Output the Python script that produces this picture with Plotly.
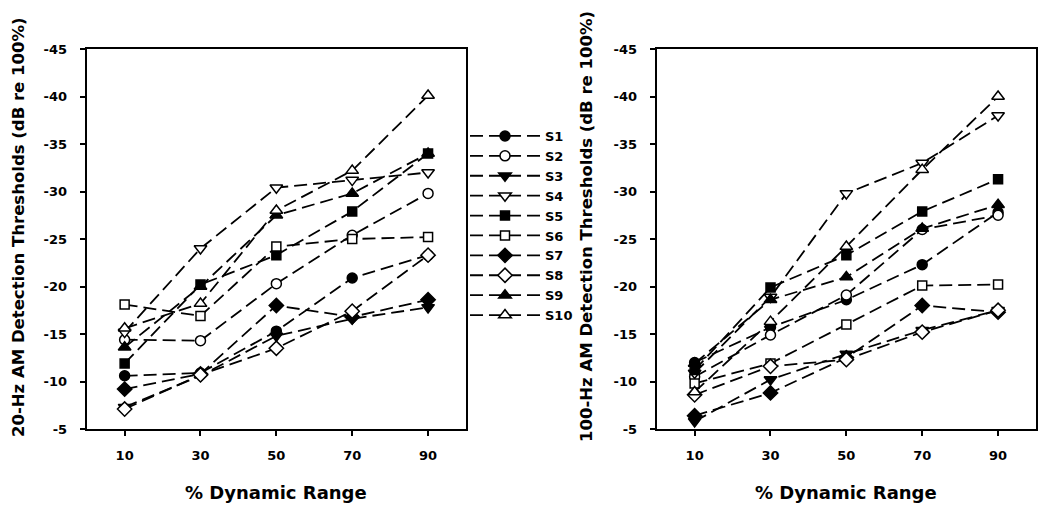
import plotly.graph_objects as go

# ---------------- data ----------------
dynamic_range = [10, 30, 50, 70, 90]
subjects = ["S1", "S2", "S3", "S4", "S5", "S6", "S7", "S8", "S9", "S10"]

hz20 = {
    "S1": [-10.6, -10.9, -15.3, -20.9, -23.3],
    "S2": [-14.4, -14.3, -20.3, -25.4, -29.8],
    "S3": [-7.3, -10.6, -14.8, -16.6, -17.8],
    "S4": [-15.2, -24.0, -30.4, -31.2, -32.0],
    "S5": [-11.9, -20.2, -23.3, -27.9, -34.0],
    "S6": [-18.1, -16.9, -24.2, -25.0, -25.2],
    "S7": [-9.2, -10.8, -18.0, -16.8, -18.6],
    "S8": [-7.1, -10.7, -13.5, -17.4, -23.3],
    "S9": [-13.6, -20.0, -27.5, -29.8, -34.0],
    "S10": [-15.6, -18.2, -28.0, -32.2, -40.1],
}

hz100 = {
    "S1": [-12.0, -15.7, -18.6, -22.3, -27.8],
    "S2": [-10.5, -14.9, -19.1, -26.0, -27.5],
    "S3": [-5.8, -10.2, -12.9, -15.4, -17.5],
    "S4": [-10.9, -18.9, -29.8, -33.0, -38.0],
    "S5": [-11.2, -19.9, -23.3, -27.9, -31.3],
    "S6": [-9.8, -11.9, -16.0, -20.1, -20.2],
    "S7": [-6.4, -8.8, -12.5, -18.0, -17.3],
    "S8": [-8.6, -11.6, -12.3, -15.2, -17.5],
    "S9": [-11.9, -18.6, -21.0, -26.1, -28.6],
    "S10": [-8.9, -16.3, -24.2, -32.3, -40.0],
}

x_ticks = [10, 30, 50, 70, 90]
x_ticktext = ["10", "30", "50", "70", "90"]
y_ticks = [-45, -40, -35, -30, -25, -20, -15, -10, -5]
y_ticktext = ["-45", "-40", "-35", "-30", "-25", "-20", "-15", "-10", "-5"]

# ---------------- styles ----------------
symbols = {
    "S1": ("circle", "black"), "S2": ("circle", "white"),
    "S3": ("triangle-down", "black"), "S4": ("triangle-down", "white"),
    "S5": ("square", "black"), "S6": ("square", "white"),
    "S7": ("diamond", "black"), "S8": ("diamond", "white"),
    "S9": ("triangle-up", "black"), "S10": ("triangle-up", "white"),
}
sizes = {"circle": 10, "triangle-down": 11, "triangle-up": 11, "square": 9, "diamond": 11}
FONT = "DejaVu Sans"
DASH = "13px,6px"

fig = go.Figure()
for panel, data, xa, ya in [(0, hz20, "x", "y"), (1, hz100, "x2", "y2")]:
    for s in subjects:
        sym, fill = symbols[s]
        fig.add_trace(go.Scatter(
            x=dynamic_range, y=data[s], name=s, xaxis=xa, yaxis=ya,
            mode="lines+markers", legendgroup=s, showlegend=(panel == 0),
            line=dict(color="black", width=1.8, dash=DASH),
            marker=dict(symbol=sym, size=sizes[sym], color=fill,
                        line=dict(color="black", width=1.5)),
        ))

# the page body has an 8px margin: the figure starts at screen (8, 8)
OFF = 8
SW, SH = 1050, 511
W, H = SW - OFF, SH - OFF
def px_x(v):
    return (v - OFF) / W
def px_y(v):
    return (SH - v) / H

axis_common = dict(
    showline=True, linecolor="black", linewidth=2, mirror=True,
    ticks="outside", ticklen=5, tickwidth=1.5, tickcolor="black",
    showgrid=False, zeroline=False, automargin=False,
    tickfont=dict(family=FONT, size=13, color="black", weight="bold"),
)

xcommon = dict(axis_common, range=[0, 100], tickvals=x_ticks, ticktext=x_ticktext,
               ticklabelstandoff=8)
ycommon = dict(axis_common, range=[-5, -45], tickvals=y_ticks, ticktext=y_ticktext,
               ticklabelstandoff=10)

title_font = dict(family=FONT, size=16.5, color="black", weight="bold")
xtitle_font = dict(family=FONT, size=18, color="black", weight="bold")

fig.update_layout(
    width=W, height=H,
    margin=dict(l=0, r=0, t=0, b=0, autoexpand=False),
    paper_bgcolor="white", plot_bgcolor="white",
    xaxis=dict(xcommon, domain=[px_x(86.7), px_x(466)], anchor="y"),
    yaxis=dict(ycommon, domain=[px_y(429), px_y(49)], anchor="x"),
    xaxis2=dict(xcommon, domain=[px_x(656.7), px_x(1036)], anchor="y2"),
    yaxis2=dict(ycommon, domain=[px_y(429), px_y(49)], anchor="x2"),
    showlegend=True,
    legend=dict(
        x=px_x(465), y=px_y(121), xanchor="left", yanchor="top",
        font=dict(family=FONT, size=13, color="black", weight="bold"),
        bgcolor="rgba(0,0,0,0)", itemwidth=70, tracegroupgap=0,
    ),
    annotations=[
        dict(text="20-Hz AM Detection Thresholds (dB re 100%)", x=px_x(18), y=px_y(227),
             xref="paper", yref="paper", textangle=-90, showarrow=False,
             xanchor="center", yanchor="middle", font=title_font),
        dict(text="100-Hz AM Detection Thresholds (dB re 100%)", x=px_x(586), y=px_y(227),
             xref="paper", yref="paper", textangle=-90, showarrow=False,
             xanchor="center", yanchor="middle", font=title_font),
        dict(text="% Dynamic Range", x=px_x(276), y=px_y(492),
             xref="paper", yref="paper", showarrow=False,
             xanchor="center", yanchor="middle", font=xtitle_font),
        dict(text="% Dynamic Range", x=px_x(846), y=px_y(492),
             xref="paper", yref="paper", showarrow=False,
             xanchor="center", yanchor="middle", font=xtitle_font),
    ],
)

fig.write_html("out.html")
